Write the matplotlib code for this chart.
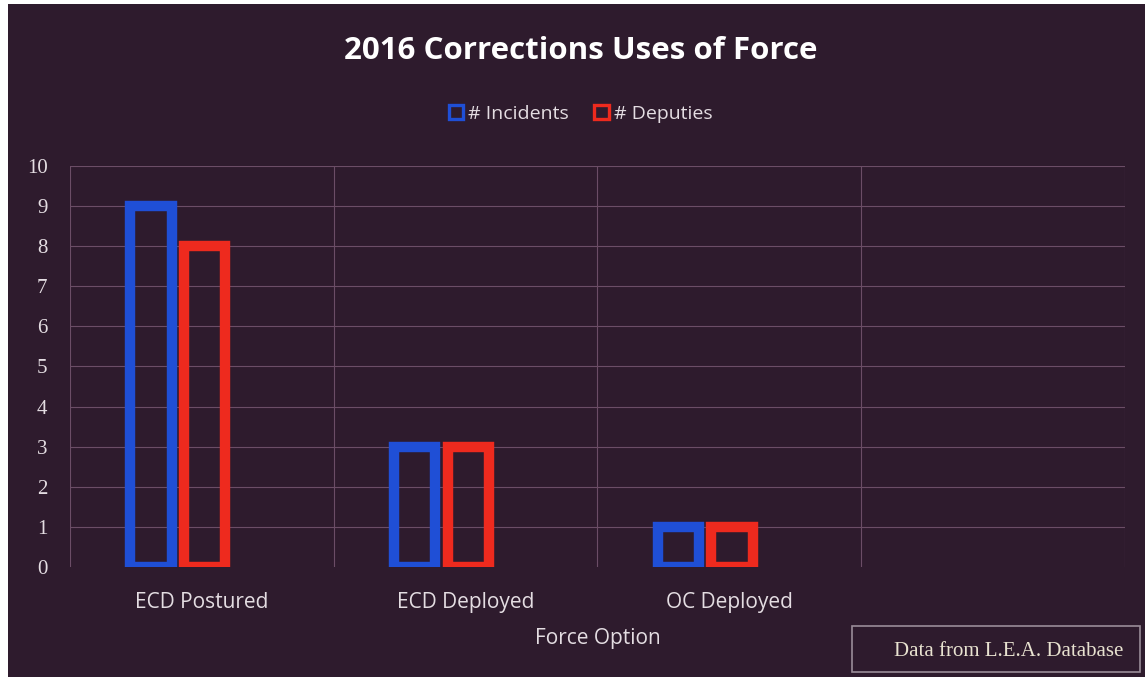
import numpy as np
from matplotlib import pyplot as plt
from matplotlib.patches import Rectangle

# chart data
categories = ['ECD Postured', 'ECD Deployed', 'OC Deployed']
incidents = [9, 3, 1]
deputies = [8, 3, 1]
y_ticks = list(range(0, 11))

bg = '#2e1b2d'
grid_c = '#6b4d66'
text_c = '#e4dde2'
blue = '#1f4fd6'
red = '#ee2a1e'

fig = plt.figure(figsize=(11.45, 6.77), dpi=100, facecolor='white')
# dark panel (scan leaves a white strip left and top)
fig.patches.append(Rectangle((0.007, 0), 0.993, 0.994, transform=fig.transFigure,
                             facecolor=bg, edgecolor='none', zorder=-5))

ax = fig.add_axes([0.061, 0.1625, 0.9215, 0.5925])
ax.set_facecolor(bg)

x = np.arange(len(categories))
w = 0.158
lw = 7.5
ax.bar(x - 0.193, incidents, w, facecolor='none', edgecolor=blue, linewidth=lw,
       label='# Incidents', zorder=3)
ax.bar(x + 0.011, deputies, w, facecolor='none', edgecolor=red, linewidth=lw,
       label='# Deputies', zorder=3)

ax.set_xlim(-0.5, 3.5)
ax.set_ylim(0, 10)
ax.set_yticks(y_ticks)
ax.set_yticklabels([str(t) for t in y_ticks], family='Liberation Serif',
                   fontsize=15, color=text_c)
ax.set_xticks(x)
ax.set_xticklabels(categories, family='Open Sans', fontsize=15, color=text_c)
ax.tick_params(length=0, pad=18)
ax.tick_params(axis='y', pad=16)

# grid: horizontal at each integer, vertical at category boundaries
for yv in y_ticks[1:]:
    ax.axhline(yv, color=grid_c, lw=0.8, zorder=1)
for xv in np.arange(-0.5, 4.0, 1.0):
    ax.axvline(xv, ymin=0, ymax=1, color=grid_c, lw=0.8, zorder=1)
for s in ax.spines.values():
    s.set_visible(False)

ax.set_xlabel('Force Option', family='Open Sans', fontsize=15, color=text_c, labelpad=11)

fig.text(0.507, 0.925, '2016 Corrections Uses of Force', ha='center', va='center',
         family='Open Sans', fontweight='bold', fontsize=22.5, color='white')

leg = fig.legend(loc='center', bbox_to_anchor=(0.507, 0.832), ncol=2, frameon=False,
                 prop={'family': 'Open Sans', 'size': 14}, handlelength=0.75,
                 handleheight=0.75, handletextpad=0.25, columnspacing=1.3)
for t in leg.get_texts():
    t.set_color(text_c)
for h in leg.legend_handles:
    h.set_linewidth(2.4)

# source note box
fig.patches.append(Rectangle((0.744, 0.0074), 0.2515, 0.068, transform=fig.transFigure,
                             facecolor=bg, edgecolor='#9a8c98', lw=1.2, zorder=5))
fig.text(0.881, 0.037, 'Data from L.E.A. Database', ha='center', va='center',
         family='Liberation Serif', fontsize=15, color='#e8e2d0', zorder=6)

plt.savefig('out.png', dpi=100, facecolor=fig.get_facecolor())
